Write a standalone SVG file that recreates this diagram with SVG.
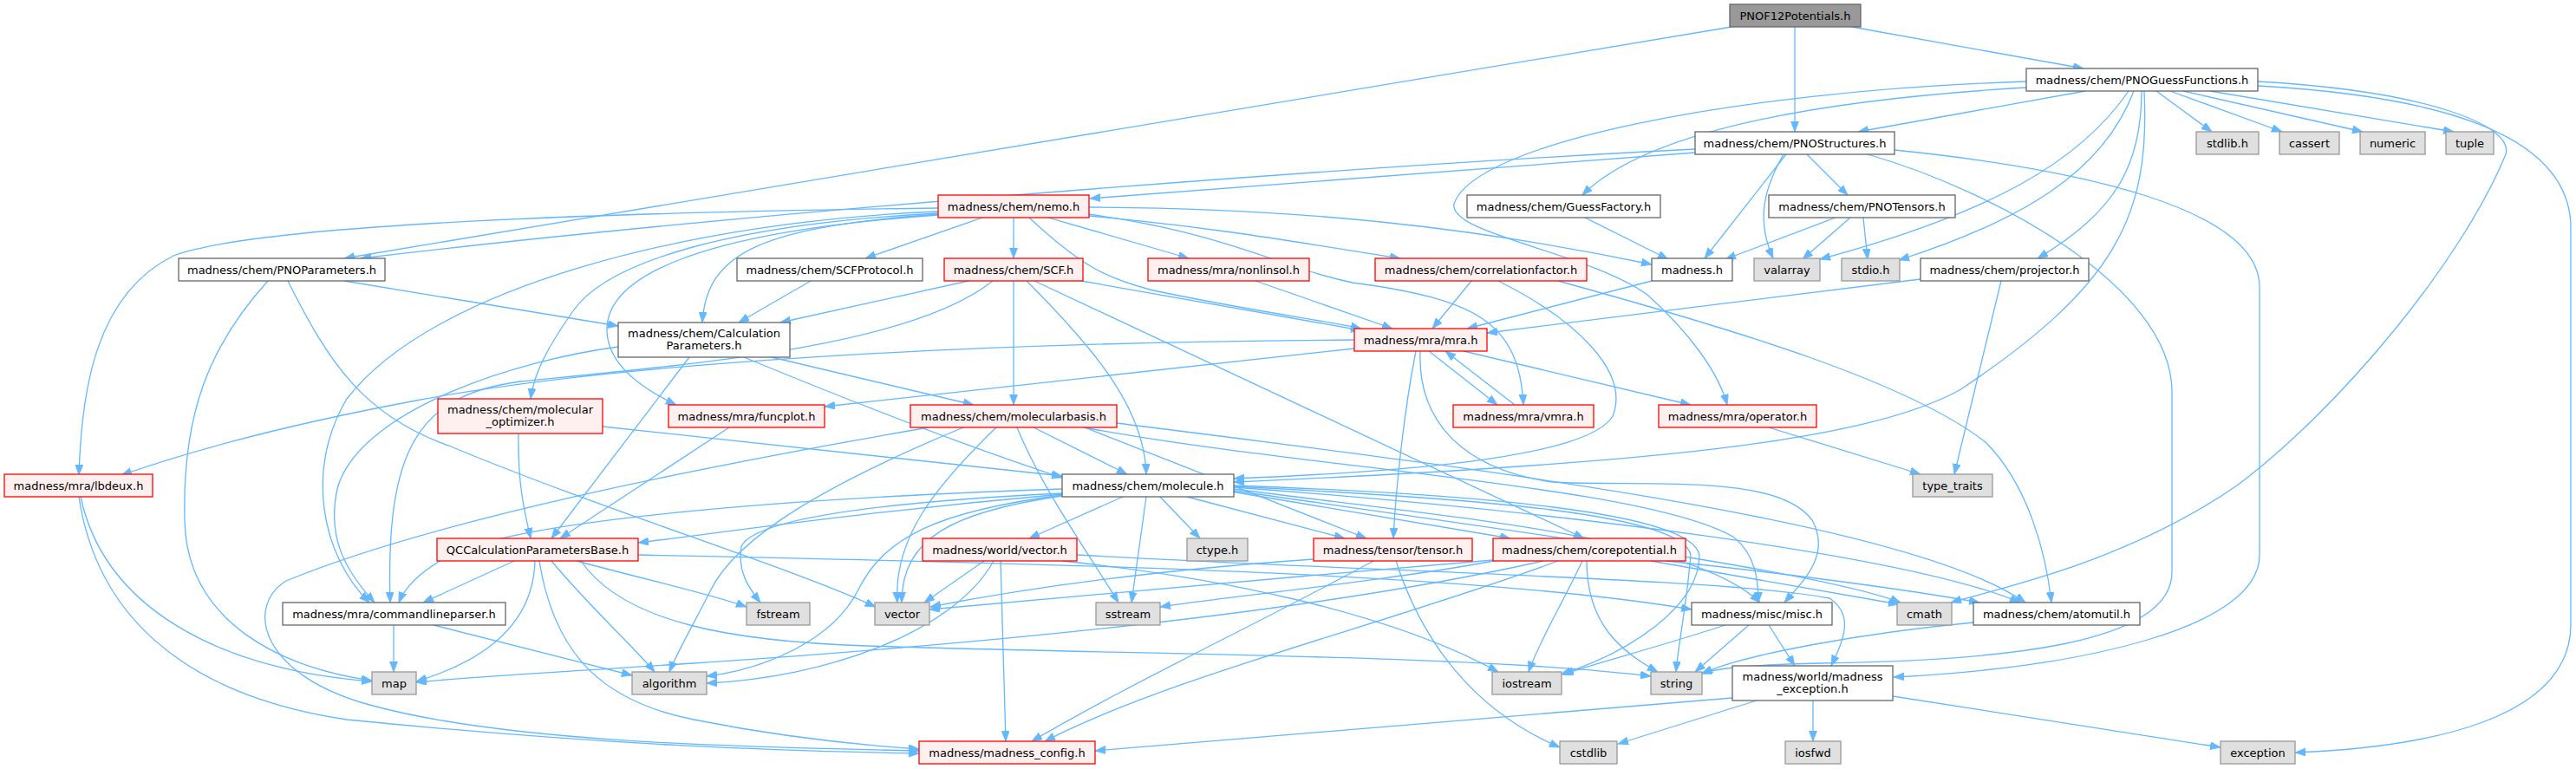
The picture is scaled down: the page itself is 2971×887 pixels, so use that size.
<svg xmlns="http://www.w3.org/2000/svg" width="2971" height="887" viewBox="0 0 2971 887">
<style>
.n rect{stroke-width:1.3}
.w rect{fill:#ffffff;stroke:#666666}
.r rect{fill:#fff0f0;stroke:#ff0000}
.g rect{fill:#e0e0e0;stroke:#999999}
.root rect{fill:#999999;stroke:#666666}
text{font-family:"DejaVu Sans","Liberation Sans",sans-serif;font-size:13px;text-anchor:middle;fill:#000000}
#edges path{fill:none;stroke:#63b8ff;stroke-width:1.3;marker-end:url(#ah)}
</style>
<defs>
<marker id="ah" markerWidth="13" markerHeight="10" refX="12" refY="4.5" orient="auto" markerUnits="userSpaceOnUse">
<path d="M0,0 L12,4.5 L0,9 z" fill="#63b8ff" stroke="#63b8ff" stroke-width="0.8"/>
</marker>
</defs>
<rect width="2971" height="887" fill="#ffffff"/>
<g id="edges">
<path d="M1997,31 L397,298"/>
<path d="M2070,31 L2070,152"/>
<path d="M2136,31 L2403,79"/>
<path d="M1955,176 L1257,229"/>
<path d="M1955,172 C1600,190 900,240 416,298"/>
<path d="M2060,178 L1966,298"/>
<path d="M2057,178 C2030,225 2028,260 2045,298"/>
<path d="M2084,178 L2131,225"/>
<path d="M2185,173 C2400,195 2604,240 2606,330 L2606,640 C2606,725 2400,770 2184,781"/>
<path d="M2154,178 C2300,220 2503,330 2505,450 L2505,660 C2505,745 2300,762 2100,765 C2010,767 1980,771 1962,777"/>
<path d="M2405,105 L2143,152"/>
<path d="M2337,101 C2100,115 1900,150 1825,225"/>
<path d="M2337,94 C2000,105 1700,165 1677,235 C1670,270 1830,290 1900,340 C1950,385 1982,430 1992,467"/>
<path d="M2455,105 C2400,185 2300,245 2099,299"/>
<path d="M2461,105 C2425,200 2330,255 2190,300"/>
<path d="M2470,105 C2470,190 2440,245 2350,298"/>
<path d="M2473,105 C2480,250 2440,330 2260,450 C2150,510 1900,535 1423,556"/>
<path d="M2487,105 L2551,152"/>
<path d="M2503,105 L2632,152"/>
<path d="M2518,105 L2725,152"/>
<path d="M2549,105 L2830,152"/>
<path d="M2604,94 C2800,105 2900,145 2890,178 C2840,300 2700,470 2580,560 C2450,650 2300,680 2250,695"/>
<path d="M2604,99 C2800,110 2962,150 2965,260 L2965,720 C2965,830 2800,862 2647,868"/>
<path d="M397,324 L713,376"/>
<path d="M309,324 C240,400 210,480 213,600 C215,720 330,772 429,785"/>
<path d="M332,324 C380,420 420,480 520,515 C700,590 900,650 1010,700"/>
<path d="M1082,240 C700,245 300,258 200,295 C110,340 94,450 91,548"/>
<path d="M1133,251 L998,298"/>
<path d="M1169,251 L1169,298"/>
<path d="M1209,251 L1371,298"/>
<path d="M1256,249 C1400,262 1500,280 1615,298"/>
<path d="M1256,239 C1500,240 1700,262 1905,305"/>
<path d="M1187,251 C1250,310 1280,322 1330,335 C1450,360 1530,370 1570,379"/>
<path d="M1082,247 C880,262 815,290 810,372"/>
<path d="M1082,248 C800,268 700,320 700,380 C700,420 740,448 780,467"/>
<path d="M1082,246 C850,258 700,300 660,360 C632,400 616,430 612,460"/>
<path d="M1082,244 C800,255 500,330 400,460 C352,540 370,640 426,695"/>
<path d="M1256,247 C1420,270 1480,310 1560,326 C1700,345 1752,370 1757,467"/>
<path d="M1828,251 L1924,299"/>
<path d="M2117,251 L1990,299"/>
<path d="M2134,251 L2079,299"/>
<path d="M2149,251 L2154,299"/>
<path d="M935,324 L852,372"/>
<path d="M1117,324 L900,372"/>
<path d="M1145,324 C1050,400 800,420 600,440 C480,456 445,520 450,695"/>
<path d="M1169,324 L1169,467"/>
<path d="M1184,324 C1260,400 1320,470 1322,547"/>
<path d="M1193,324 L1827,621"/>
<path d="M1247,324 L1570,381"/>
<path d="M1448,324 L1606,379"/>
<path d="M1697,324 L1652,379"/>
<path d="M1728,324 C1820,370 1880,430 1860,480 C1830,530 1600,545 1423,552"/>
<path d="M1797,324 C2000,380 2200,440 2290,510 C2340,560 2360,640 2366,695"/>
<path d="M1905,324 L1692,379"/>
<path d="M2215,322 L1715,384"/>
<path d="M2308,324 L2254,547"/>
<path d="M713,400 C600,415 420,470 390,560 C375,620 400,660 432,695"/>
<path d="M795,412 L636,621"/>
<path d="M858,412 C950,450 1100,510 1225,551"/>
<path d="M890,412 L1123,467"/>
<path d="M1562,392 C1100,395 700,420 480,462 C330,490 220,520 140,548"/>
<path d="M1562,402 L951,469"/>
<path d="M1633,405 C1620,470 1610,560 1607,621"/>
<path d="M1638,405 C1635,480 1680,540 1790,556 C1900,562 2050,545 2090,600 C2112,640 2080,670 2058,695"/>
<path d="M1648,405 L1727,467"/>
<path d="M1688,405 L1950,467"/>
<path d="M1747,467 L1667,405"/>
<path d="M2040,493 L2215,547"/>
<path d="M598,500 C597,560 605,590 612,621"/>
<path d="M695,492 L1225,549"/>
<path d="M841,493 L646,621"/>
<path d="M1071,493 C800,540 500,600 330,670 C282,700 300,780 430,814 C600,860 900,862 1060,866"/>
<path d="M1111,493 C950,560 850,620 820,680 C800,720 782,750 772,775"/>
<path d="M1149,493 C1080,560 1030,620 1035,695"/>
<path d="M1173,493 C1200,560 1250,630 1290,695"/>
<path d="M1192,493 L1300,547"/>
<path d="M1251,493 L1576,621"/>
<path d="M1288,488 C1700,540 2200,600 2336,695"/>
<path d="M1250,493 C1500,540 1900,560 2000,620 C2025,640 2028,670 2028,695"/>
<path d="M93,573 C120,700 250,772 429,786"/>
<path d="M91,573 C110,700 200,800 400,830 C700,860 900,866 1060,869"/>
<path d="M1225,564 C900,575 600,600 520,640 C482,660 466,680 460,695"/>
<path d="M1225,569 C1000,580 870,600 855,630 C850,660 865,680 877,695"/>
<path d="M1225,570 C1000,590 850,612 736,626"/>
<path d="M1225,572 C1100,590 1040,620 1040,695"/>
<path d="M1225,571 C1080,590 1020,620 990,680 C960,740 880,772 815,780"/>
<path d="M1295,573 L1187,621"/>
<path d="M1322,573 L1305,695"/>
<path d="M1338,573 L1384,621"/>
<path d="M1369,573 L1551,621"/>
<path d="M1420,567 L1742,621"/>
<path d="M1423,564 C1700,600 1950,620 2030,695"/>
<path d="M1423,566 C1800,620 2100,660 2192,695"/>
<path d="M1423,562 C1800,590 2200,640 2330,695"/>
<path d="M1423,560 C1700,570 1950,590 1960,640 C1960,700 1880,752 1800,778"/>
<path d="M1423,561 C1700,575 1940,592 1950,640 C1945,700 1936,740 1933,775"/>
<path d="M593,647 L488,695"/>
<path d="M617,647 C615,720 560,762 480,786"/>
<path d="M622,647 C640,760 700,810 800,830 C900,850 1000,860 1060,864"/>
<path d="M636,647 C680,700 730,745 755,775"/>
<path d="M665,647 C750,670 820,685 861,700"/>
<path d="M736,640 C1200,650 1700,660 1951,703"/>
<path d="M670,647 C720,720 850,740 1000,745 C1300,755 1700,755 1904,780"/>
<path d="M1135,647 L1066,695"/>
<path d="M1146,647 C1100,730 950,782 815,788"/>
<path d="M1154,647 L1160,855"/>
<path d="M1225,647 C1400,665 1600,705 1728,775"/>
<path d="M1242,640 C1600,660 2000,668 2110,690 C2140,710 2125,740 2112,768"/>
<path d="M1722,646 C1500,665 1200,690 1072,703"/>
<path d="M1723,647 C1600,670 1400,690 1338,700"/>
<path d="M1780,647 C1500,710 1100,745 800,765 C650,775 550,780 480,787"/>
<path d="M1797,647 C1600,720 1350,780 1205,855"/>
<path d="M1825,647 C1800,700 1775,740 1763,775"/>
<path d="M1830,647 C1830,720 1870,752 1912,775"/>
<path d="M1904,647 L2190,697"/>
<path d="M1921,647 C2050,660 2200,680 2283,695"/>
<path d="M1584,647 C1450,720 1300,790 1190,855"/>
<path d="M1610,647 C1640,740 1700,820 1799,862"/>
<path d="M1515,645 C1300,660 1150,685 1073,700"/>
<path d="M1990,721 C1900,750 1850,762 1803,778"/>
<path d="M2017,721 L1955,775"/>
<path d="M2040,721 L2070,768"/>
<path d="M2276,718 C2150,730 2010,755 1963,777"/>
<path d="M1998,805 C1700,830 1450,850 1263,866"/>
<path d="M2026,808 L1866,858"/>
<path d="M2091,808 L2091,855"/>
<path d="M2183,803 L2561,862"/>
<path d="M454,721 L454,775"/>
<path d="M500,721 L729,779"/>
</g>
<g id="n0" class="n root"><rect x="1995" y="5" width="151" height="26"/><text x="2070.5" y="22.5">PNOF12Potentials.h</text></g>
<g id="n1" class="n w"><rect x="206" y="298" width="238" height="26"/><text x="325" y="315.5">madness/chem/PNOParameters.h</text></g>
<g id="n2" class="n w"><rect x="1955" y="152" width="230" height="26"/><text x="2070" y="169.5">madness/chem/PNOStructures.h</text></g>
<g id="n3" class="n w"><rect x="2337" y="79" width="267" height="26"/><text x="2470.5" y="96.5">madness/chem/PNOGuessFunctions.h</text></g>
<g id="n4" class="n r"><rect x="1082" y="225" width="174" height="26"/><text x="1169" y="242.5">madness/chem/nemo.h</text></g>
<g id="n5" class="n w"><rect x="1692" y="225" width="223" height="26"/><text x="1803.5" y="242.5">madness/chem/GuessFactory.h</text></g>
<g id="n6" class="n w"><rect x="2040" y="225" width="215" height="26"/><text x="2147.5" y="242.5">madness/chem/PNOTensors.h</text></g>
<g id="n7" class="n g"><rect x="2533" y="152" width="72" height="26"/><text x="2569" y="169.5">stdlib.h</text></g>
<g id="n8" class="n g"><rect x="2629" y="152" width="69" height="26"/><text x="2663.5" y="169.5">cassert</text></g>
<g id="n9" class="n g"><rect x="2722" y="152" width="75" height="26"/><text x="2759.5" y="169.5">numeric</text></g>
<g id="n10" class="n g"><rect x="2821" y="152" width="55" height="26"/><text x="2848.5" y="169.5">tuple</text></g>
<g id="n11" class="n w"><rect x="850" y="298" width="214" height="26"/><text x="957" y="315.5">madness/chem/SCFProtocol.h</text></g>
<g id="n12" class="n r"><rect x="1089" y="298" width="160" height="26"/><text x="1169" y="315.5">madness/chem/SCF.h</text></g>
<g id="n13" class="n r"><rect x="1324" y="298" width="186" height="26"/><text x="1417" y="315.5">madness/mra/nonlinsol.h</text></g>
<g id="n14" class="n r"><rect x="1586" y="298" width="244" height="26"/><text x="1708" y="315.5">madness/chem/correlationfactor.h</text></g>
<g id="n15" class="n w"><rect x="1905" y="298" width="93" height="26"/><text x="1951.5" y="315.5">madness.h</text></g>
<g id="n16" class="n g"><rect x="2023" y="298" width="76" height="26"/><text x="2061" y="315.5">valarray</text></g>
<g id="n17" class="n g"><rect x="2124" y="298" width="67" height="26"/><text x="2157.5" y="315.5">stdio.h</text></g>
<g id="n18" class="n w"><rect x="2215" y="298" width="194" height="26"/><text x="2312" y="315.5">madness/chem/projector.h</text></g>
<g id="n19" class="n w"><rect x="713" y="372" width="198" height="40"/><text x="812" y="388.5">madness/chem/Calculation</text><text x="812" y="403">Parameters.h</text></g>
<g id="n20" class="n r"><rect x="1562" y="379" width="153" height="26"/><text x="1638.5" y="396.5">madness/mra/mra.h</text></g>
<g id="n21" class="n r"><rect x="505" y="460" width="190" height="40"/><text x="600" y="476.5">madness/chem/molecular</text><text x="600" y="491">_optimizer.h</text></g>
<g id="n22" class="n r"><rect x="771" y="467" width="180" height="26"/><text x="861" y="484.5">madness/mra/funcplot.h</text></g>
<g id="n23" class="n r"><rect x="1050" y="467" width="238" height="26"/><text x="1169" y="484.5">madness/chem/molecularbasis.h</text></g>
<g id="n24" class="n r"><rect x="1676" y="467" width="162" height="26"/><text x="1757" y="484.5">madness/mra/vmra.h</text></g>
<g id="n25" class="n r"><rect x="1913" y="467" width="182" height="26"/><text x="2004" y="484.5">madness/mra/operator.h</text></g>
<g id="n26" class="n r"><rect x="5" y="547" width="171" height="26"/><text x="90.5" y="564.5">madness/mra/lbdeux.h</text></g>
<g id="n27" class="n w"><rect x="1225" y="547" width="198" height="26"/><text x="1324" y="564.5">madness/chem/molecule.h</text></g>
<g id="n28" class="n g"><rect x="2206" y="547" width="92" height="26"/><text x="2252" y="564.5">type_traits</text></g>
<g id="n29" class="n r"><rect x="504" y="621" width="232" height="26"/><text x="620" y="638.5">QCCalculationParametersBase.h</text></g>
<g id="n30" class="n r"><rect x="1064" y="621" width="178" height="26"/><text x="1153" y="638.5">madness/world/vector.h</text></g>
<g id="n31" class="n g"><rect x="1369" y="621" width="70" height="26"/><text x="1404" y="638.5">ctype.h</text></g>
<g id="n32" class="n r"><rect x="1515" y="621" width="183" height="26"/><text x="1606.5" y="638.5">madness/tensor/tensor.h</text></g>
<g id="n33" class="n r"><rect x="1722" y="621" width="222" height="26"/><text x="1833" y="638.5">madness/chem/corepotential.h</text></g>
<g id="n34" class="n w"><rect x="326" y="695" width="257" height="26"/><text x="454.5" y="712.5">madness/mra/commandlineparser.h</text></g>
<g id="n35" class="n g"><rect x="861" y="695" width="73" height="26"/><text x="897.5" y="712.5">fstream</text></g>
<g id="n36" class="n g"><rect x="1009" y="695" width="63" height="26"/><text x="1040.5" y="712.5">vector</text></g>
<g id="n37" class="n g"><rect x="1264" y="695" width="74" height="26"/><text x="1301" y="712.5">sstream</text></g>
<g id="n38" class="n w"><rect x="1951" y="695" width="162" height="26"/><text x="2032" y="712.5">madness/misc/misc.h</text></g>
<g id="n39" class="n g"><rect x="2188" y="695" width="63" height="26"/><text x="2219.5" y="712.5">cmath</text></g>
<g id="n40" class="n w"><rect x="2276" y="695" width="192" height="26"/><text x="2372" y="712.5">madness/chem/atomutil.h</text></g>
<g id="n41" class="n g"><rect x="429" y="775" width="51" height="26"/><text x="454.5" y="792.5">map</text></g>
<g id="n42" class="n g"><rect x="729" y="775" width="86" height="26"/><text x="772" y="792.5">algorithm</text></g>
<g id="n43" class="n g"><rect x="1721" y="775" width="80" height="26"/><text x="1761" y="792.5">iostream</text></g>
<g id="n44" class="n g"><rect x="1904" y="775" width="59" height="26"/><text x="1933.5" y="792.5">string</text></g>
<g id="n45" class="n w"><rect x="1998" y="768" width="185" height="40"/><text x="2090.5" y="784.5">madness/world/madness</text><text x="2090.5" y="799">_exception.h</text></g>
<g id="n46" class="n r"><rect x="1060" y="855" width="203" height="26"/><text x="1161.5" y="872.5">madness/madness_config.h</text></g>
<g id="n47" class="n g"><rect x="1799" y="855" width="66" height="26"/><text x="1832" y="872.5">cstdlib</text></g>
<g id="n48" class="n g"><rect x="2059" y="855" width="64" height="26"/><text x="2091" y="872.5">iosfwd</text></g>
<g id="n49" class="n g"><rect x="2561" y="855" width="86" height="26"/><text x="2604" y="872.5">exception</text></g>
</svg>
